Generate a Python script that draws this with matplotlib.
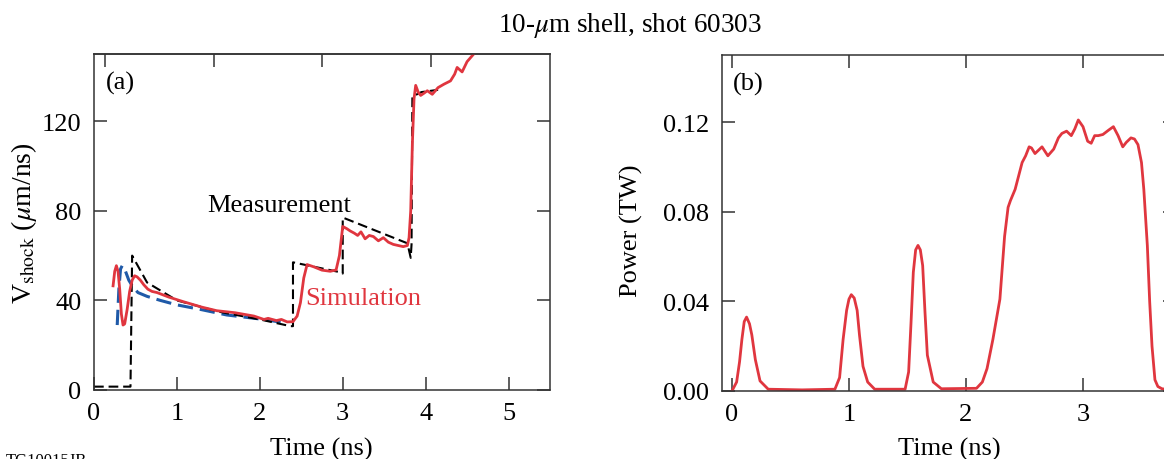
import matplotlib
matplotlib.use("Agg")
import matplotlib.pyplot as plt

plt.rcParams["font.family"] = ["Liberation Serif", "DejaVu Serif"]
plt.rcParams["mathtext.fontset"] = "stix"
plt.rcParams["lines.scale_dashes"] = False

# ---- (a) shock velocity ----
meas_t = [0.00, 0.42, 0.44, 0.46, 0.64, 1.00, 1.50, 2.00, 2.37, 2.40, 2.40,
          2.98, 3.00, 3.00, 3.78, 3.82, 3.83, 3.84, 3.95, 4.15]
meas_v = [1.5, 1.5, 1.5, 60.0, 48.0, 40.0, 35.0, 31.5, 28.5, 28.5, 57.0,
          52.5, 52.0, 77.0, 65.5, 59.0, 65.0, 131.0, 133.0, 134.0]

sim_t = [0.23, 0.25, 0.27, 0.29, 0.31, 0.33, 0.35, 0.37, 0.40, 0.43, 0.46,
         0.49, 0.52, 0.56, 0.60, 0.65, 0.70, 0.76, 0.90, 1.08, 1.30, 1.48,
         1.70, 1.93, 2.05, 2.10, 2.15, 2.20, 2.26, 2.33, 2.40, 2.45, 2.49,
         2.53, 2.57, 2.65, 2.75, 2.85, 2.92, 2.96, 3.00, 3.05, 3.09, 3.14,
         3.18, 3.22, 3.27, 3.32, 3.37, 3.43, 3.49, 3.55, 3.61, 3.67, 3.73,
         3.78, 3.80, 3.82, 3.84, 3.86, 3.88, 3.91, 3.94, 3.98, 4.02, 4.08,
         4.15, 4.22, 4.30, 4.35, 4.38, 4.41, 4.44, 4.50, 4.58, 4.70]
sim_v = [46.5, 53.0, 55.5, 53.0, 45.0, 34.0, 29.0, 29.5, 36.0, 44.0, 49.0,
         51.0, 50.5, 49.0, 47.0, 45.0, 44.0, 43.5, 41.5, 39.4, 37.0, 35.4,
         34.5, 33.0, 31.5, 32.0, 31.5, 31.0, 31.5, 30.4, 30.5, 33.0, 39.0,
         50.0, 56.0, 55.0, 53.5, 53.0, 53.6, 60.0, 73.0, 72.0, 71.0, 70.0,
         69.0, 70.6, 67.5, 69.0, 68.5, 66.6, 68.0, 66.0, 65.0, 64.5, 64.0,
         64.5, 68.0, 80.0, 110.0, 130.0, 136.0, 133.0, 131.5, 132.5, 133.6,
         132.0, 135.0, 136.5, 138.0, 141.0, 144.0, 143.0, 142.0, 146.6,
         150.0, 154.0]

blue_t = [0.28, 0.30, 0.32, 0.34, 0.37, 0.42, 0.47, 0.53, 0.64, 0.80, 1.00,
          1.28, 1.60, 2.00, 2.20, 2.28]
blue_v = [29.0, 45.0, 54.0, 55.5, 54.0, 49.0, 46.0, 43.5, 41.8, 40.0, 38.0,
          36.0, 33.5, 31.7, 30.6, 30.2]

# ---- (b) laser power ----
pow_t = [0.00, 0.04, 0.065, 0.085, 0.105, 0.125, 0.15, 0.17, 0.20, 0.24,
         0.31, 0.60, 0.88, 0.92, 0.95, 0.98, 1.00, 1.02, 1.045, 1.07, 1.09,
         1.12, 1.16, 1.22, 1.48, 1.51, 1.53, 1.55, 1.57, 1.59, 1.61, 1.63,
         1.65, 1.67, 1.72, 1.79, 2.09, 2.14, 2.18, 2.23, 2.29, 2.33, 2.36,
         2.38, 2.42, 2.48, 2.51, 2.54, 2.56, 2.59, 2.62, 2.65, 2.70, 2.75,
         2.79, 2.82, 2.86, 2.90, 2.93, 2.96, 3.00, 3.04, 3.07, 3.10, 3.13,
         3.17, 3.22, 3.26, 3.30, 3.34, 3.37, 3.41, 3.44, 3.47, 3.50, 3.52,
         3.55, 3.57, 3.59, 3.615, 3.64, 3.675, 3.75, 3.85]
pow_p = [0.0000, 0.0040, 0.0130, 0.0230, 0.0310, 0.0330, 0.0300, 0.0250,
         0.0140, 0.0045, 0.0008, 0.0005, 0.0008, 0.0060, 0.0230, 0.0360,
         0.0410, 0.0430, 0.0415, 0.0360, 0.0250, 0.0110, 0.0040, 0.0008,
         0.0008, 0.0085, 0.0300, 0.0530, 0.0630, 0.0650, 0.0630, 0.0560,
         0.0350, 0.0160, 0.0040, 0.0010, 0.0012, 0.0040, 0.0100, 0.0230,
         0.0410, 0.0690, 0.0820, 0.0850, 0.0900, 0.1020, 0.1050, 0.1090,
         0.1085, 0.1060, 0.1075, 0.1090, 0.1050, 0.1080, 0.1130, 0.1150,
         0.1160, 0.1140, 0.1170, 0.1210, 0.1180, 0.1115, 0.1106, 0.1140,
         0.1140, 0.1145, 0.1165, 0.1180, 0.1140, 0.1090, 0.1110, 0.1130,
         0.1125, 0.1100, 0.1020, 0.0900, 0.0650, 0.0400, 0.0200, 0.0050,
         0.0020, 0.0010, 0.0005, 0.0003]

RED = "#e0363f"
BLUE = "#1f5aa8"
SPINE = "#333333"
FS = 19

fig = plt.figure(figsize=(11.64, 4.60), dpi=100)
W, H = 1164.0, 460.0
ax_a = fig.add_axes([94 / W, 69 / H, 456 / W, 336 / H])
ax_b = fig.add_axes([722 / W, 68 / H, 454 / W, 336 / H])


def style(ax):
    for s in ax.spines.values():
        s.set_color(SPINE)
        s.set_linewidth(1.1)
    ax.tick_params(direction="in", length=9.4, width=1.1, color=SPINE,
                   labelsize=FS, pad=9, right=True)


# panel (a)
ax_a.plot(blue_t, blue_v, color=BLUE, lw=2.2, dashes=(11, 5))
ax_a.plot(meas_t, meas_v, color="black", lw=1.5, dashes=(7, 3.5))
ax_a.plot(sim_t, sim_v, color=RED, lw=2.0)
ax_a.set_xlim(0, 5.5)
ax_a.set_ylim(0, 150)
ax_a.set_xticks([0, 1, 2, 3, 4, 5])
ax_a.set_yticks([0, 40, 80, 120])
style(ax_a)
ax_a.tick_params(top=False)
top_a = ax_a.secondary_xaxis("top")
top_a.set_xticks([0.133, 1.443, 2.753, 4.063], labels=[])
top_a.tick_params(direction="in", length=9.4, width=1.1, color=SPINE)
top_a.spines["top"].set_color(SPINE)
top_a.spines["top"].set_linewidth(1.1)
ax_a.set_xlabel("Time (ns)", fontsize=FS)
ax_a.xaxis.set_label_coords(0.498, -0.14)
ax_a.set_ylabel(r"V$_{\rm shock}$ ($\mu$m/ns)", fontsize=20)
ax_a.yaxis.set_label_coords(-0.121, 0.5)
ax_a.text(0.027, 0.915, "(a)", transform=ax_a.transAxes, fontsize=FS,
          va="center", ha="left")
ax_a.text(1.37, 82.5, "Measurement", fontsize=FS, color="black",
          ha="left", va="center")
ax_a.text(2.55, 41, "Simulation", fontsize=FS, color=RED,
          ha="left", va="center")

# panel (b)
ax_b.plot(pow_t, pow_p, color=RED, lw=2.0)
ax_b.set_xlim(-0.085, 3.795)
ax_b.set_ylim(0, 0.15)
ax_b.set_xticks([0, 1, 2, 3])
ax_b.set_yticks([0, 0.04, 0.08, 0.12],
                labels=["0.00", "0.04", "0.08", "0.12"])
style(ax_b)
ax_b.tick_params(top=True)
ax_b.set_xlabel("Time (ns)", fontsize=FS)
ax_b.xaxis.set_label_coords(0.5, -0.136)
ax_b.set_ylabel("Power (TW)", fontsize=FS)
ax_b.yaxis.set_label_coords(-0.174, 0.48)
ax_b.text(0.024, 0.915, "(b)", transform=ax_b.transAxes, fontsize=FS,
          va="center", ha="left")

fig.text(630 / W, 1 - 26 / H, r"10-$\mu$m shell, shot 60303", fontsize=19.5,
         ha="center", va="center")
fig.text(6 / W, 7 / H, "TG10015JB", fontsize=12, ha="left", va="top")

fig.savefig("out.png", dpi=100)
